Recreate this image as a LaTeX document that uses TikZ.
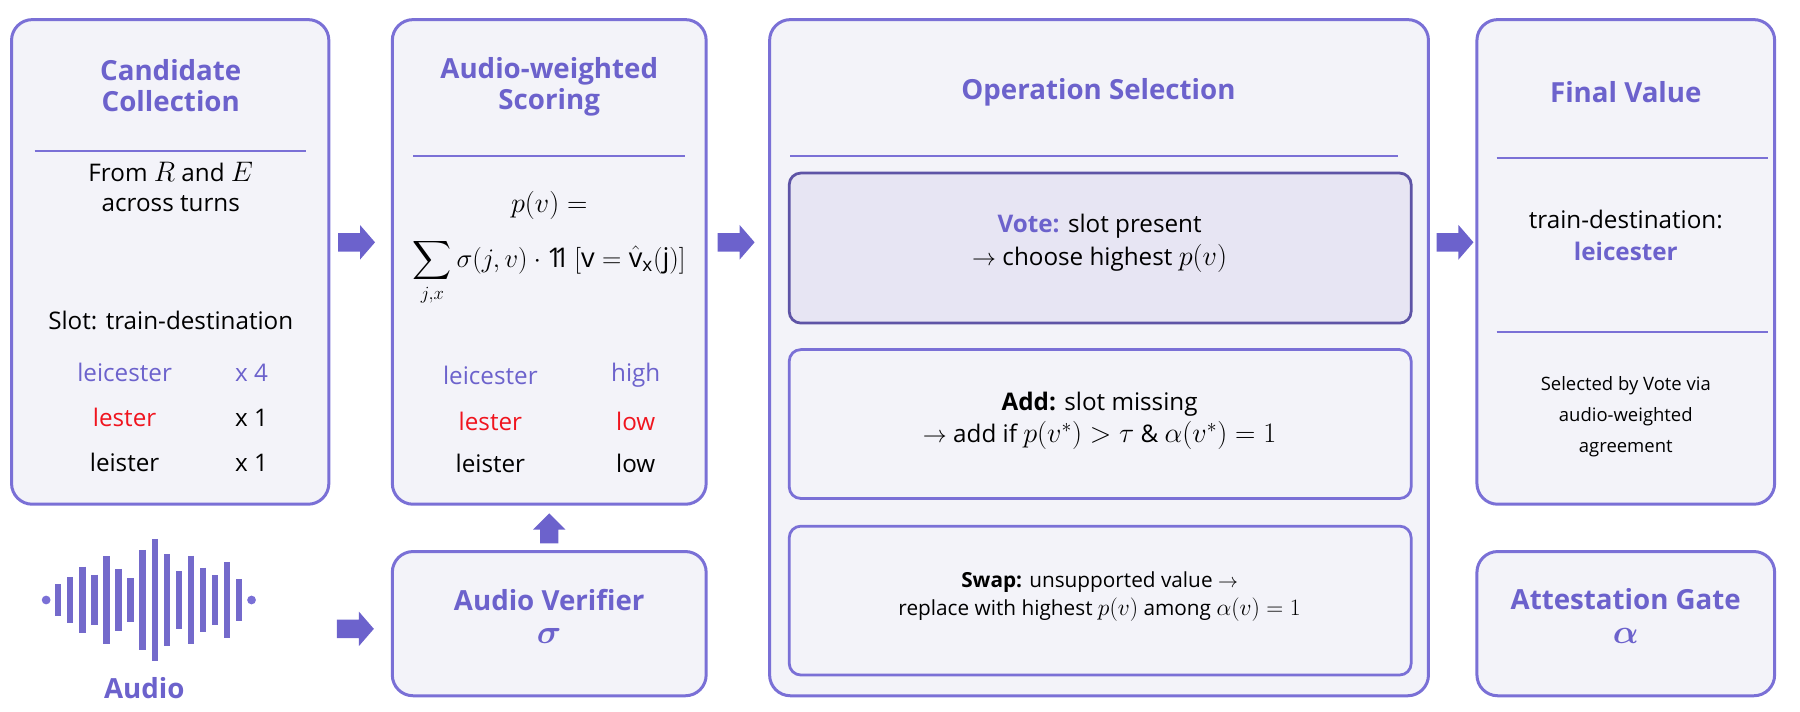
\documentclass[tikz,border=0pt]{standalone}
\usepackage{amsmath,amssymb,graphicx}
\usepackage{fontspec}
\setmainfont{Open Sans}
\newcommand{\indone}{\mathrm{1\kern-0.3em 1}\,}
\newcommand{\mm}[1]{\scalebox{1.18}{$#1$}}
\definecolor{pb}{HTML}{7A70D6}
\definecolor{pt}{HTML}{6C62CC}
\definecolor{pf}{HTML}{F3F3F9}
\definecolor{vf}{HTML}{E7E5F3}
\definecolor{vb}{HTML}{5E54A6}
\definecolor{rd}{HTML}{F0141E}
\begin{document}
\begin{tikzpicture}[x=1pt,y=-1pt,
 box/.style={draw=pb,line width=2.6pt,fill=pf,rounded corners=18pt},
 ibox/.style={draw=pb,line width=2.4pt,fill=pf,rounded corners=10pt},
 sep/.style={pb,line width=1.4pt},
 ttl/.style={font=\fontsize{24}{29}\selectfont\bfseries,text=pt,align=center},
 txt/.style={font=\fontsize{21}{26}\selectfont,align=center},
 sm/.style={font=\fontsize{16}{21}\selectfont,align=center},
 bar/.style={pb!95!black,line width=5.5pt,line cap=butt}]
\useasboundingbox (0,0) rectangle (1560,617);
% boxes
\draw[box] (10,17) rectangle (285,437);
\draw[box] (340,17) rectangle (612,437);
\draw[box] (340,478) rectangle (612,603);
\draw[box] (667,17) rectangle (1238,603);
\draw[box] (1280,17) rectangle (1538,437);
\draw[box] (1280,478) rectangle (1538,603);
\draw[ibox,fill=vf,draw=vb] (684,150) rectangle (1223,280);
\draw[ibox] (684,303) rectangle (1223,432);
\draw[ibox] (684,456) rectangle (1223,585);
\draw[sep] (30,131) -- (265,131);
\draw[sep] (358,135) -- (594,135);
\draw[sep] (685,135) -- (1212,135);
\draw[sep] (1297,137) -- (1532,137);
\draw[sep] (1297,288) -- (1532,288);
% candidate
\node[ttl] (ct) at (148,74) {Candidate\\[-2pt]Collection};
\node[txt] (cf) at (148,162) {From \mm{R} and \mm{E}\\across turns};
\node[txt] (cs) at (148,278) {Slot: train-destination};
\node[txt,text=pt] (c1) at (108,323) {leicester};
\node[txt,text=pt] (c1n) at (218,323) {x 4};
\node[txt,text=rd] (c2) at (108,362) {lester};
\node[txt] (c2n) at (218,362) {x 1};
\node[txt] (c3) at (108,401) {leister};
\node[txt] (c3n) at (218,401) {x 1};
% scoring
\node[ttl] (st) at (476,75) {Audio-weighted\\[-2pt]Scoring};
\node[txt] (sp) at (476,178) {\mm{p(v) =}};
\node[txt] (ss) at (476,236) {\scalebox{1.12}{$\displaystyle\sum_{j,x}\sigma(j,v)\cdot\indone[\mathrm{v}=\hat{\mathrm{v}}_{\mathrm{x}}(\mathrm{j})]$}};
\node[txt,text=pt] (s1) at (425,325) {leicester};
\node[txt,text=pt] (s1n) at (551,325) {high};
\node[txt,text=rd] (s2) at (425,365) {lester};
\node[txt,text=rd] (s2n) at (551,365) {low};
\node[txt] (s3) at (425,402) {leister};
\node[txt] (s3n) at (551,402) {low};
% verifier
\node[ttl] (av) at (476,534) {Audio Verifier\\[0pt]\mm{\boldsymbol{\sigma}}};
% op selection
\node[ttl] (ot) at (952,80) {Operation Selection};
\node[txt] (ov) at (953,211) {{\bfseries\color{pt}Vote:} slot present\\[2pt]$\to$ choose highest \mm{p(v)}};
\node[txt] (oa) at (953,365) {{\bfseries Add:} slot missing\\[2pt]$\to$ add if \mm{p(v^*)>\tau} \& \mm{\alpha(v^*)=1}};
\node[txt,font=\fontsize{18}{23}\selectfont] (os) at (953,517) {{\bfseries Swap:} unsupported value $\to$\\[2pt]replace with highest \mm{p(v)} among \mm{\alpha(v)=1}};
% final
\node[ttl] (ft) at (1409,80) {Final Value};
\node[txt] (fv) at (1409,204) {train-destination:\\[2pt]{\bfseries\color{pt}leicester}};
\node[sm] (fs) at (1409,361) {Selected by Vote via\\[6pt]audio-weighted\\[6pt]agreement};
\node[ttl] (ag) at (1409,534) {Attestation Gate\\[0pt]\mm{\boldsymbol{\alpha}}};
% audio
\node[ttl] (au) at (125,596) {Audio};
\fill[pb] (40,520) circle (3.8pt) (218,520) circle (3.8pt);
\foreach \i/\h in {1/27,2/40,3/58,4/44,5/76,6/54,7/38,8/87,9/106,10/80,11/50,12/77,13/56,14/43,15/66,16/36}
  \draw[bar] ({40+\i*10.45},{520-\h/2}) -- ({40+\i*10.45},{520+\h/2});
% arrows
\foreach \x/\y in {293/210,622/210,1245/210,292/545}
  \fill[pt] (\x,\y-8) -- (\x+19,\y-8) -- (\x+19,\y-15) -- (\x+32,\y) -- (\x+19,\y+15) -- (\x+19,\y+8) -- (\x,\y+8) -- cycle;
\fill[pt] (468,471) -- (468,459) -- (462,459) -- (476,445) -- (490,459) -- (484,459) -- (484,471) -- cycle;
\end{tikzpicture}
\end{document}
